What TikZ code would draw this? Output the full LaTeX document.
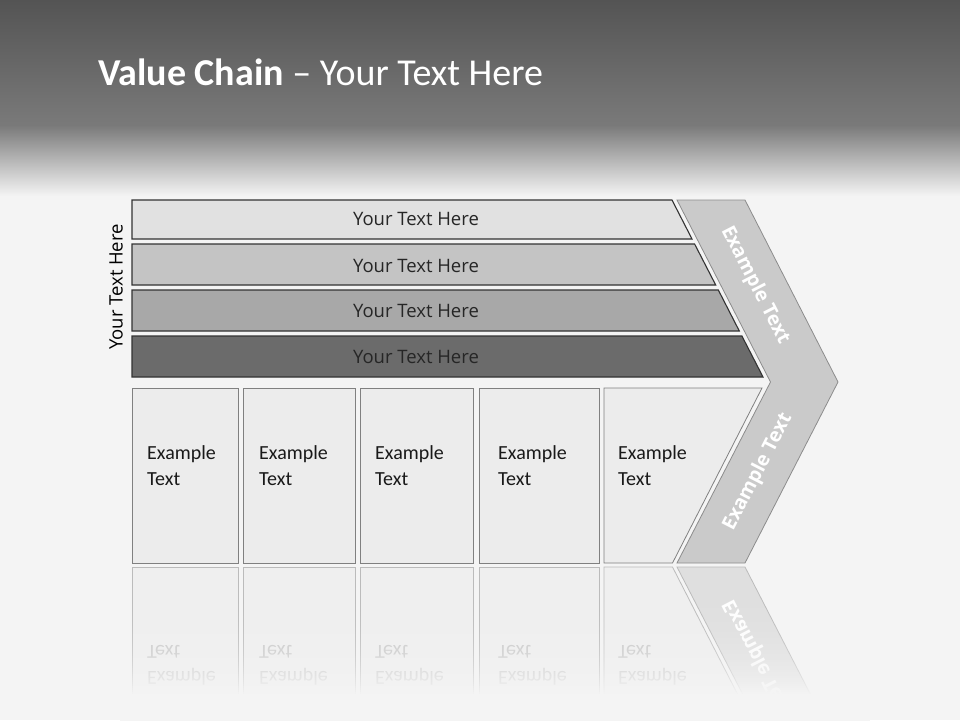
\documentclass[tikz,border=0pt]{standalone}
\usepackage{fontspec}
\setmainfont{Carlito}
\newfontfamily\osans{Open Sans}
\definecolor{bgcol}{HTML}{F4F4F4}
\definecolor{gtop}{HTML}{545454}
\definecolor{gmid}{HTML}{7A7A7A}
\definecolor{barA}{HTML}{E1E1E1}
\definecolor{barB}{HTML}{C4C4C4}
\definecolor{barC}{HTML}{A8A8A8}
\definecolor{barD}{HTML}{6B6B6B}
\definecolor{boxfill}{HTML}{ECECEC}
\definecolor{chevfill}{HTML}{CACACA}
\definecolor{rchevfill}{HTML}{DEDEDE}
\definecolor{rboxfill}{HTML}{EFEFEF}
\definecolor{rline}{HTML}{B8B8B8}
\definecolor{rtext}{HTML}{C6C6C6}
\begin{document}
\begin{tikzpicture}[x=1pt,y=-1pt,
  bar/.style={draw=black!80, line width=1.1pt},
  bartext/.style={font=\osans\fontsize{18.5}{21}\selectfont, text=black!85, inner sep=0},
  boxshape/.style={draw=black!50, line width=0.8pt, fill=boxfill},
  boxtext/.style={font=\fontsize{20}{26}\selectfont, align=left, anchor=base west, inner sep=0, text=black!90},
  chev/.style={draw=black!45, line width=0.8pt, fill=chevfill},
  chevtext/.style={font=\osans\bfseries\fontsize{19.5}{22}\selectfont, text=white, inner sep=0},
  rbox/.style={draw=rline, line width=0.8pt, fill=rboxfill},
  rboxtext/.style={boxtext, text=rtext},
  rchev/.style={draw=rline, line width=0.8pt, fill=rchevfill}]

\useasboundingbox (0,0) rectangle (960,720);
% background
\fill[bgcol] (0,0) rectangle (960,720);
\shade[top color=gtop, bottom color=gmid] (0,0) rectangle (960,126);
\shade[top color=gmid, bottom color=bgcol] (0,125.5) rectangle (960,196);

% title
\node[anchor=base west, inner sep=0, text=white, font=\fontsize{38}{40}\selectfont] (title) at (98,85) {\textbf{Value Chain} – Your Text Here};

% bars
\draw[bar, fill=barA] (132,200) -- (672,200) -- (692,239) -- (132,239) -- cycle;
\draw[bar, fill=barB] (132,244) -- (694.6,244) -- (715.7,285) -- (132,285) -- cycle;
\draw[bar, fill=barC] (132,290) -- (718.3,290) -- (739.3,331) -- (132,331) -- cycle;
\draw[bar, fill=barD] (132,336) -- (741.9,336) -- (763,377) -- (132,377) -- cycle;
\node[bartext] (t1) at (416,219) {Your Text Here};
\node[bartext] (t2) at (416,265.5) {Your Text Here};
\node[bartext] (t3) at (416,311) {Your Text Here};
\node[bartext] (t4) at (416,356.5) {Your Text Here};
\node[bartext, text=black, rotate=90] (side) at (116,287) {Your Text Here};

% chevron
\draw[chev] (677,200) -- (745,200) -- (838,382) -- (745,563) -- (677,563) -- (770.5,382) -- cycle;
\node[chevtext, rotate=-62.8] (c1) at (755,285) {Example Text};
\node[chevtext, rotate=62.8] (c2) at (758,472) {Example Text};

% boxes
\draw[boxshape] (132,388) rectangle (238,563);
\draw[boxshape] (243,388) rectangle (355,563);
\draw[boxshape] (360,388) rectangle (473,563);
\draw[boxshape] (479,388) rectangle (599,563);
\draw[boxshape] (604,388) -- (762,388) -- (672.5,563) -- (604,563) -- cycle;
\node[boxtext] (b1) at (147,485) {Example\\Text};
\node[boxtext] (b2) at (259,485) {Example\\Text};
\node[boxtext] (b3) at (375,485) {Example\\Text};
\node[boxtext] (b4) at (498,485) {Example\\Text};
\node[boxtext] (b5) at (618,485) {Example\\Text};

% reflection
\begin{scope}[shift={(0,1130)}, yscale=-1, transform shape]
\draw[rbox] (132,388) rectangle (238,563);
\draw[rbox] (243,388) rectangle (355,563);
\draw[rbox] (360,388) rectangle (473,563);
\draw[rbox] (479,388) rectangle (599,563);
\draw[rbox] (604,388) -- (762,388) -- (672.5,563) -- (604,563) -- cycle;
\draw[rchev] (770.5,382) -- (838,382) -- (745,563) -- (677,563) -- cycle;
\node[rboxtext] (r1) at (147,485) {Example\\Text};
\node[rboxtext] (r2) at (259,485) {Example\\Text};
\node[rboxtext] (r3) at (375,485) {Example\\Text};
\node[rboxtext] (r4) at (498,485) {Example\\Text};
\node[rboxtext] (r5) at (618,485) {Example\\Text};
\node[chevtext, rotate=62.8] (rc2) at (758,472) {Example Text};
\end{scope}
% fade of the reflection
\foreach \i in {0,...,64} {
  \pgfmathsetmacro\yy{566+2*\i}
  \pgfmathsetmacro\aa{min(1,0.06+0.94*((\yy-566)/128)^3)}
  \fill[bgcol, opacity=\aa] (120,\yy) rectangle (870,\yy+2);
}
\fill[bgcol] (120,694) rectangle (870,760);
\end{tikzpicture}
\end{document}
